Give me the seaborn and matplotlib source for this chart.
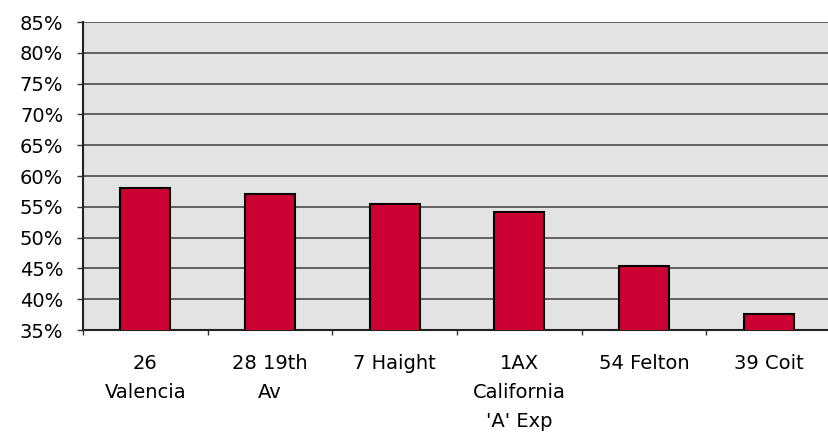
import matplotlib
matplotlib.use("Agg")
import matplotlib.pyplot as plt
import seaborn as sns
import pandas as pd
import numpy as np
from matplotlib.ticker import FixedLocator, PercentFormatter

routes = ["26\nValencia", "28 19th\nAv", "7 Haight", "1AX\nCalifornia\n'A' Exp", "54 Felton", "39 Coit"]
shares = [58.0, 57.1, 55.4, 54.2, 45.4, 37.6]
y_ticks = [35, 40, 45, 50, 55, 60, 65, 70, 75, 80, 85]

df = pd.DataFrame({"route": routes, "share": shares})

sns.set_theme(style="white")
plt.rcParams["font.family"] = ["DejaVu Sans"]

W, H = 829, 432
fig = plt.figure(figsize=(W / 100, H / 100), dpi=100)
ax = fig.add_axes([83 / W, (H - 330) / H, 748 / W, 308 / H])
ax.set_facecolor("#e3e3e3")

sns.barplot(data=df, x="route", y="share", ax=ax, color="#cc0033",
            width=0.4, edgecolor="black", linewidth=1.5, saturation=1, zorder=3)

ax.set_ylim(35, 85)
ax.set_xlim(-0.5, len(routes) - 0.5)
ax.yaxis.set_major_locator(FixedLocator(y_ticks))
ax.yaxis.set_major_formatter(PercentFormatter(decimals=0))
ax.grid(axis="y", color="#4a4a4a", linewidth=1.2, zorder=1)
ax.set_axisbelow(True)

# category boundary ticks on the x axis, labels centred on the bars
ax.set_xticks(np.arange(len(routes)))
ax.set_xticklabels(routes, linespacing=1.67, fontsize=14)
ax.xaxis.set_minor_locator(FixedLocator(np.arange(-0.5, len(routes), 1.0)))
ax.tick_params(axis="x", which="major", length=0, pad=17)
ax.tick_params(axis="x", which="minor", length=3.6, width=1, color="#333333", direction="out", bottom=True)
ax.tick_params(axis="y", length=4.3, width=1, color="#333333", direction="out", left=True, pad=10, labelsize=14)
for lbl in ax.get_yticklabels():
    lbl.set_color("black")
for lbl in ax.get_xticklabels():
    lbl.set_color("black")
    lbl.set_verticalalignment("top")

for side in ["top", "right"]:
    ax.spines[side].set_visible(False)
for side in ["left", "bottom"]:
    ax.spines[side].set_color("#222222")
    ax.spines[side].set_linewidth(1.5)

ax.set_xlabel("")
ax.set_ylabel("")

fig.savefig("out.png", dpi=100)
